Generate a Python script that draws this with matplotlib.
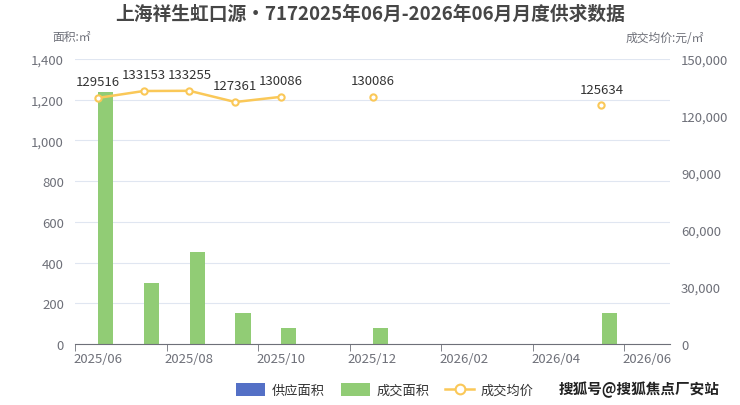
import numpy as np
import matplotlib.pyplot as plt
from matplotlib.patches import Patch
from matplotlib.lines import Line2D
from matplotlib.ticker import FuncFormatter

plt.rcParams['font.family'] = ['Noto Sans CJK SC', 'DejaVu Sans']

# Data
months = ['2025/06', '2025/07', '2025/08', '2025/09', '2025/10', '2025/11', '2025/12',
          '2026/01', '2026/02', '2026/03', '2026/04', '2026/05', '2026/06']
supply_area = [0, 0, 0, 0, 0, 0, 0, 0, 0, 0, 0, 0, 0]
deal_area = [1238, 300, 452, 152, 78, 0, 78, 0, 0, 0, 0, 152, 0]
avg_price = [129516, 133153, 133255, 127361, 130086, np.nan, 130086,
             np.nan, np.nan, np.nan, np.nan, 125634, np.nan]

blue = '#5470C6'
green = '#91CC75'
yellow = '#FAC858'
gray = '#6E7079'
grid = '#E0E6F1'

fig = plt.figure(figsize=(7.4, 4.06), dpi=100)
ax = fig.add_axes([75 / 740, 61 / 406, 595 / 740, 285 / 406])
ax2 = ax.twinx()

x = np.arange(len(months))
w = 0.33
ax.bar(x - 0.17, supply_area, w, color=blue, zorder=2)
ax.bar(x + 0.17, deal_area, w, color=green, zorder=2)

ax.set_xlim(-0.5, len(months) - 0.5)
ax.set_ylim(0, 1400)
ax.set_yticks(np.arange(0, 1401, 200))
ax.yaxis.set_major_formatter(FuncFormatter(lambda v, p: f'{int(v):,}'))
ax.grid(axis='y', color=grid, lw=0.8, zorder=0)
ax.set_axisbelow(True)

ax.set_xticks(x[::2])
ax.set_xticklabels(months[::2])
ax.set_xticks(np.arange(-0.5, len(months) - 0.5, 2), minor=True)
ax.tick_params(axis='x', which='major', length=0, pad=6, labelsize=9.5, labelcolor=gray)
ax.tick_params(axis='x', which='minor', length=5, color=gray, direction='out')
ax.tick_params(axis='y', length=0, labelsize=9.5, labelcolor=gray, pad=8)

for s in ['top', 'right', 'left']:
    ax.spines[s].set_visible(False)
    ax2.spines[s].set_visible(False)
ax2.spines['bottom'].set_visible(False)
ax.spines['bottom'].set_color(gray)

ax2.set_ylim(0, 150000)
ax2.set_yticks(np.arange(0, 150001, 30000))
ax2.yaxis.set_major_formatter(FuncFormatter(lambda v, p: f'{int(v):,}'))
ax2.tick_params(axis='y', length=0, labelsize=9.5, labelcolor=gray, pad=8)

ax2.plot(x, avg_price, color=yellow, lw=1.8, marker='o', ms=4.5,
         mfc='white', mec=yellow, mew=1.5, zorder=3)
for xi, v in zip(x, avg_price):
    if not np.isnan(v):
        ax2.annotate(f'{int(v)}', (xi, v), xytext=(0, 7), textcoords='offset points',
                     ha='center', va='bottom', fontsize=9.5, color='#333333')

fig.text(0.5, 0.965, '上海祥生虹口源•7172025年06月-2026年06月月度供求数据',
         ha='center', va='center', fontsize=13.5, fontweight='bold', color='#464646')
fig.text(72 / 740, 1 - 38 / 406, '面积:㎡', ha='center', va='center', fontsize=8.5, color=gray)
fig.text(665 / 740, 1 - 38 / 406, '成交均价:元/㎡', ha='center', va='center', fontsize=8.5, color=gray)

handles = [Patch(facecolor=blue, edgecolor='none'),
           Patch(facecolor=green, edgecolor='none'),
           Line2D([0], [0], color=yellow, lw=1.8, marker='o', ms=7, mfc='white', mec=yellow, mew=1.5)]
fig.legend(handles, ['供应面积', '成交面积', '成交均价'], loc='center', ncol=3,
           bbox_to_anchor=(385 / 740, 1 - 391 / 406), frameon=False, fontsize=9.5,
           labelcolor='#333333', handlelength=2.2, handleheight=1.1, columnspacing=1.2,
           handletextpad=0.5)

fig.text(720 / 740, 1 - 390 / 406, '搜狐号@搜狐焦点厂安站', ha='right', va='center',
         fontsize=10.5, color='#222222', fontweight='bold')

fig.savefig('out.png', dpi=100)
